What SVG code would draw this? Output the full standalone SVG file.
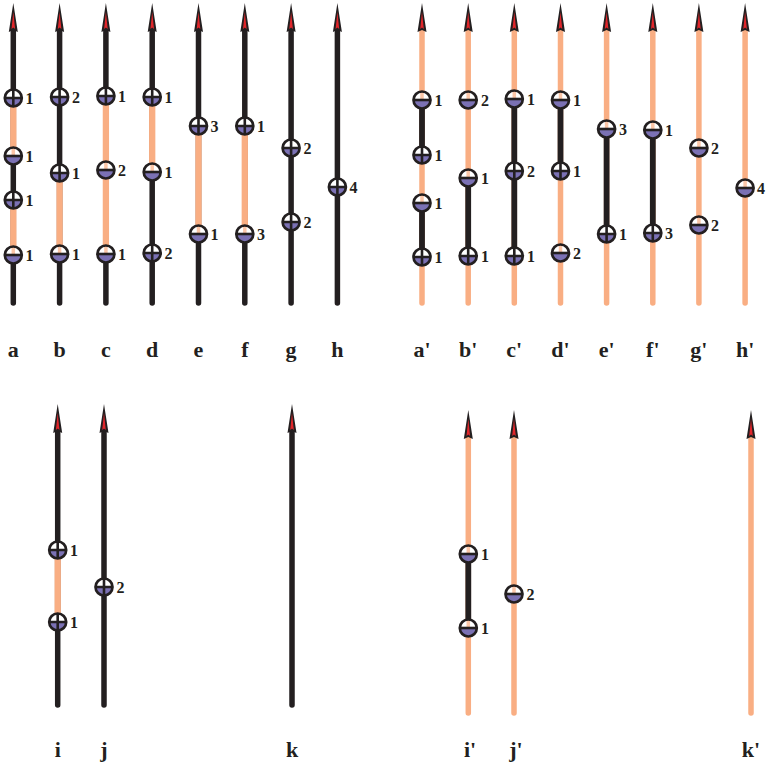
<svg xmlns="http://www.w3.org/2000/svg" width="767" height="770" viewBox="0 0 767 770">
<style>
.k{stroke:#231f20;stroke-width:5.5;stroke-linecap:round;fill:none}
.o{stroke:#f9ae83;stroke-width:5.5;stroke-linecap:round;fill:none}
.ks{stroke:#231f20;stroke-width:5.8;stroke-linecap:butt;fill:none}
.os{stroke:#f9ae83;stroke-width:6.3;stroke-linecap:butt;fill:none}
.n{font-family:"Liberation Serif",serif;font-weight:bold;font-size:16px;fill:#231f20}
.lb{font-family:"Liberation Serif",serif;font-weight:bold;font-size:22px;fill:#231f20;text-anchor:middle}
</style>
<defs>
<g id="ah">
<path d="M0,0 L4.5,29 L0,27 L-4.5,29 Z" fill="#231f20"/>
<path d="M0,9 L1.8,26 L0,24.5 L-1.8,26 Z" fill="#e0262b"/>
</g>
<g id="mm">
<path d="M-8.5,0 A8.5,8.5 0 0 1 8.5,0 Z" fill="#ffffff"/>
<path d="M0,-8 V0" stroke="#f9ae83" stroke-width="3.5" stroke-opacity="0.7"/>
<path d="M-8.5,0 A8.5,8.5 0 0 0 8.5,0 Z" fill="#7b71b4"/>
<path d="M-8.5,0 H8.5" stroke="#231f20" stroke-width="2.6"/>
<circle r="8.5" fill="none" stroke="#231f20" stroke-width="2.7"/>
</g>
<g id="mp">
<path d="M-8.5,0 A8.5,8.5 0 0 1 8.5,0 Z" fill="#ffffff"/>
<path d="M-8.5,0 A8.5,8.5 0 0 0 8.5,0 Z" fill="#7b71b4"/>
<path d="M-8.5,0 H8.5 M0,-8.5 V8.5" stroke="#231f20" stroke-width="2.6"/>
<circle r="8.5" fill="none" stroke="#231f20" stroke-width="2.7"/>
</g>
</defs>

<g id="connectors">
<path class="k" d="M13.3,30 V303 M59.6,30 V303 M105.9,30 V303 M152.2,30 V303 M198.5,30 V303 M244.8,30 V303 M291.1,30 V303 M337.4,30 V303"/>
<path class="os" d="M13.3,98 V156 M13.3,200 V255 M59.6,173 V254 M105.9,96 V254 M152.2,97 V172 M198.5,126 V234 M244.8,126 V234"/>
<path class="o" d="M422,30 V303 M468.2,30 V303 M514.3,30 V303 M560.5,30 V303 M606.6,30 V303 M652.8,30 V303 M698.9,30 V303 M745.1,30 V303"/>
<path class="ks" d="M422,100 V155 M422,203 V257 M468.2,178 V256 M514.3,99 V256 M560.5,100 V171 M606.6,129 V234 M652.8,130 V233"/>
<path class="k" d="M57.7,430 V705 M104,430 V705 M292,430 V705"/>
<path class="os" d="M57.7,550 V622"/>
<path class="o" d="M468.3,437 V713 M514,437 V713 M751,437 V713"/>
<path class="ks" d="M468.3,554 V628"/>
<use href="#ah" x="13.3" y="3"/><use href="#ah" x="59.6" y="3"/><use href="#ah" x="105.9" y="3"/><use href="#ah" x="152.2" y="3"/>
<use href="#ah" x="198.5" y="3"/><use href="#ah" x="244.8" y="3"/><use href="#ah" x="291.1" y="3"/><use href="#ah" x="337.4" y="3"/>
<use href="#ah" x="422" y="3"/><use href="#ah" x="468.2" y="3"/><use href="#ah" x="514.3" y="3"/><use href="#ah" x="560.5" y="3"/>
<use href="#ah" x="606.6" y="3"/><use href="#ah" x="652.8" y="3"/><use href="#ah" x="698.9" y="3"/><use href="#ah" x="745.1" y="3"/>
<use href="#ah" x="57.7" y="404"/><use href="#ah" x="104" y="404"/><use href="#ah" x="292" y="404"/>
<use href="#ah" x="468.3" y="410"/><use href="#ah" x="514" y="410"/><use href="#ah" x="751" y="410"/>
</g>

<g id="a"><use href="#mp" x="13.3" y="98"/><text class="n" x="25.5" y="104">1</text><use href="#mm" x="13.3" y="156"/><text class="n" x="25.5" y="162">1</text><use href="#mp" x="13.3" y="200"/><text class="n" x="25.5" y="206">1</text><use href="#mm" x="13.3" y="255"/><text class="n" x="25.5" y="261">1</text><text class="lb" x="13.3" y="357">a</text></g>
<g id="b"><use href="#mp" x="59.6" y="97"/><text class="n" x="72" y="103">2</text><use href="#mp" x="59.6" y="173"/><text class="n" x="72" y="179">1</text><use href="#mm" x="59.6" y="254"/><text class="n" x="72" y="260">1</text><text class="lb" x="59.6" y="357">b</text></g>
<g id="c"><use href="#mp" x="105.9" y="96"/><text class="n" x="118" y="102">1</text><use href="#mm" x="105.9" y="170"/><text class="n" x="118" y="176">2</text><use href="#mm" x="105.9" y="254"/><text class="n" x="118" y="260">1</text><text class="lb" x="105.9" y="357">c</text></g>
<g id="d"><use href="#mp" x="152.2" y="97"/><text class="n" x="164.5" y="103">1</text><use href="#mm" x="152.2" y="172"/><text class="n" x="164.5" y="178">1</text><use href="#mp" x="152.2" y="253"/><text class="n" x="164.5" y="259">2</text><text class="lb" x="152.2" y="357">d</text></g>
<g id="e"><use href="#mp" x="198.5" y="126"/><text class="n" x="210.5" y="132">3</text><use href="#mm" x="198.5" y="234"/><text class="n" x="210.5" y="240">1</text><text class="lb" x="198.5" y="357">e</text></g>
<g id="f"><use href="#mp" x="244.8" y="126"/><text class="n" x="257" y="132">1</text><use href="#mm" x="244.8" y="234"/><text class="n" x="257" y="240">3</text><text class="lb" x="244.8" y="357">f</text></g>
<g id="g"><use href="#mp" x="291.1" y="148"/><text class="n" x="303.5" y="154">2</text><use href="#mp" x="291.1" y="222"/><text class="n" x="303.5" y="228">2</text><text class="lb" x="291.1" y="357">g</text></g>
<g id="h"><use href="#mp" x="337.4" y="187"/><text class="n" x="349.5" y="193">4</text><text class="lb" x="337.4" y="357">h</text></g>

<g id="a2"><use href="#mm" x="422" y="100"/><text class="n" x="434.5" y="106">1</text><use href="#mp" x="422" y="155"/><text class="n" x="434.5" y="161">1</text><use href="#mm" x="422" y="203"/><text class="n" x="434.5" y="209">1</text><use href="#mp" x="422" y="257"/><text class="n" x="434.5" y="263">1</text><text class="lb" x="422" y="357">a'</text></g>
<g id="b2"><use href="#mm" x="468.2" y="100"/><text class="n" x="481" y="106">2</text><use href="#mm" x="468.2" y="178"/><text class="n" x="481" y="184">1</text><use href="#mp" x="468.2" y="256"/><text class="n" x="481" y="262">1</text><text class="lb" x="468.2" y="357">b'</text></g>
<g id="c2"><use href="#mm" x="514.3" y="99"/><text class="n" x="527" y="105">1</text><use href="#mp" x="514.3" y="171"/><text class="n" x="527" y="177">2</text><use href="#mp" x="514.3" y="256"/><text class="n" x="527" y="262">1</text><text class="lb" x="514.3" y="357">c'</text></g>
<g id="d2"><use href="#mm" x="560.5" y="100"/><text class="n" x="573" y="106">1</text><use href="#mp" x="560.5" y="171"/><text class="n" x="573" y="177">1</text><use href="#mm" x="560.5" y="253"/><text class="n" x="573" y="259">2</text><text class="lb" x="560.5" y="357">d'</text></g>
<g id="e2"><use href="#mm" x="606.6" y="129"/><text class="n" x="619" y="135">3</text><use href="#mp" x="606.6" y="234"/><text class="n" x="619" y="240">1</text><text class="lb" x="606.6" y="357">e'</text></g>
<g id="f2"><use href="#mm" x="652.8" y="130"/><text class="n" x="665" y="136">1</text><use href="#mp" x="652.8" y="233"/><text class="n" x="665" y="239">3</text><text class="lb" x="652.8" y="357">f'</text></g>
<g id="g2"><use href="#mm" x="698.9" y="148"/><text class="n" x="711" y="154">2</text><use href="#mm" x="698.9" y="225"/><text class="n" x="711" y="231">2</text><text class="lb" x="698.9" y="357">g'</text></g>
<g id="h2"><use href="#mm" x="745.1" y="188"/><text class="n" x="757" y="194">4</text><text class="lb" x="745.1" y="357">h'</text></g>

<g id="i"><use href="#mp" x="57.7" y="550"/><text class="n" x="70" y="556">1</text><use href="#mp" x="57.7" y="622"/><text class="n" x="70" y="628">1</text><text class="lb" x="57.7" y="757">i</text></g>
<g id="j"><use href="#mp" x="104" y="587"/><text class="n" x="116.5" y="593">2</text><text class="lb" x="104" y="757">j</text></g>
<g id="k"><text class="lb" x="292" y="757">k</text></g>
<g id="i2"><use href="#mm" x="468.3" y="554"/><text class="n" x="481" y="560">1</text><use href="#mm" x="468.3" y="628"/><text class="n" x="481" y="634">1</text><text class="lb" x="470" y="757">i'</text></g>
<g id="j2"><use href="#mm" x="514" y="594"/><text class="n" x="526.5" y="600">2</text><text class="lb" x="516" y="757">j'</text></g>
<g id="k2"><text class="lb" x="751" y="757">k'</text></g>
</svg>
